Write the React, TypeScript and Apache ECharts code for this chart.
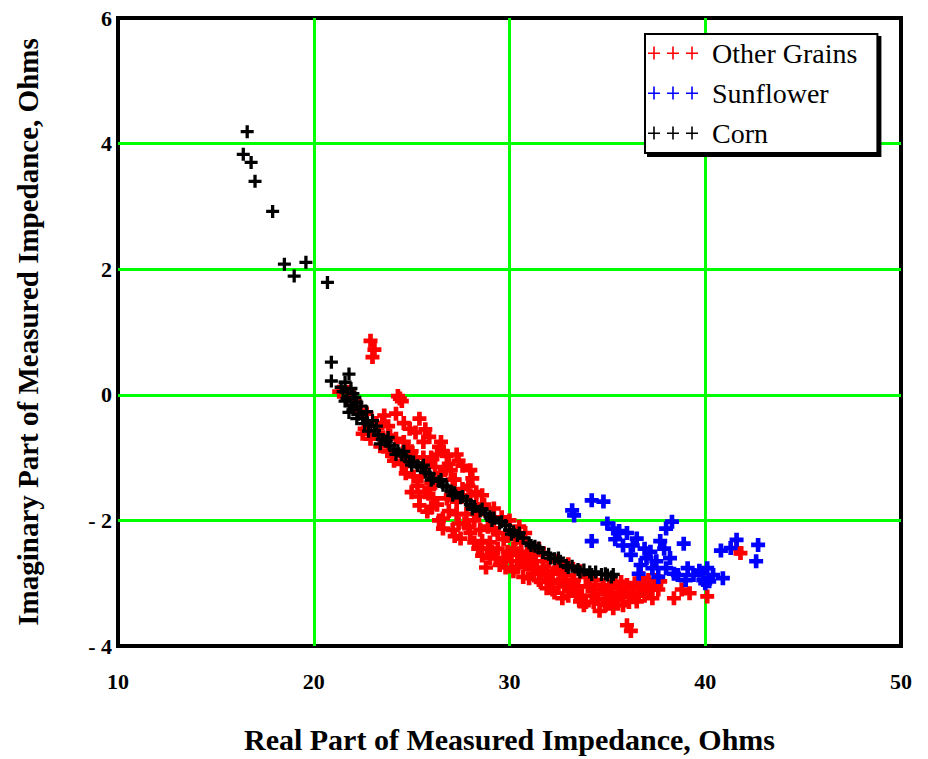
import React, { useEffect, useRef } from "react";
import * as echarts from "echarts";

// Axis ranges and tick steps
const xTicks = [10, 20, 30, 40, 50];
const yTicks = [-4, -2, 0, 2, 4, 6];

const seriesNames = ["Other Grains", "Sunflower", "Corn"];
const seriesColors = ["#ff0000", "#0000ff", "#000000"];

// Other grains: [real, imaginary] impedance, ohms
const otherGrains: number[][] = [
  [22.9, 0.86], [23.1, 0.72], [23.0, 0.6],
  [24.3, -0.02], [24.5, -0.1], [24.4, -0.06],
  [21.3, 0.05], [21.8, 0.05], [22.1, -0.1], [22.4, -0.25], [22.6, -0.54], [22.9, -0.7],
  [22.5, -0.62], [23.2, -0.45], [23.6, -0.33], [23.8, -0.5], [23.4, -0.82], [24.0, -0.97],
  [24.2, -0.7], [24.6, -0.45], [24.9, -0.54], [24.8, -0.85], [24.8, -1.06], [24.7, -1.25],
  [25.4, -0.38], [25.2, -0.6], [25.6, -0.75], [25.9, -0.67], [25.1, -1.3], [25.3, -1.45],
  [25.4, -1.62], [25.4, -1.76], [25.8, -1.86], [25.7, -1.55], [26.1, -1.65], [26.0, -1.0],
  [26.4, -0.83], [26.2, -1.15], [26.6, -0.9], [26.8, -0.97], [26.5, -1.25], [26.3, -1.75],
  [26.6, -1.97], [26.6, -2.13], [26.9, -1.85], [27.0, -1.2], [27.2, -1.35], [27.4, -1.05],
  [27.6, -1.13], [27.3, -1.9], [27.5, -2.29], [27.7, -2.05], [27.9, -1.45], [28.1, -1.33],
  [28.0, -2.2], [28.3, -1.55], [28.6, -1.6], [28.6, -2.33], [28.4, -2.45], [28.6, -2.56],
  [28.9, -2.1], [29.2, -1.81], [29.0, -2.35], [29.3, -2.6], [29.5, -2.71], [29.7, -2.3],
  [29.9, -2.5], [30.0, -2.0], [30.2, -2.81], [30.4, -2.55], [30.6, -2.35], [30.8, -2.7],
  [31.0, -2.92], [31.2, -2.44], [31.4, -2.75], [31.6, -2.98], [31.9, -3.08], [32.0, -2.65],
  [32.2, -2.85], [32.4, -2.65], [32.5, -3.0], [32.7, -3.24], [32.9, -2.87], [33.1, -3.1],
  [33.3, -2.95], [33.6, -3.29], [33.6, -2.81], [33.8, -3.35], [34.0, -3.05], [34.2, -3.2],
  [34.4, -2.95], [34.6, -3.44], [34.8, -3.03], [35.0, -3.3], [35.2, -3.15], [35.4, -3.0],
  [35.6, -3.08], [35.8, -3.35], [36.0, -3.03], [36.0, -3.67], [36.2, -3.76], [36.3, -3.2],
  [36.5, -3.29], [36.8, -2.92], [37.0, -3.08], [37.3, -3.24], [37.5, -3.03], [37.7, -2.97],
  [38.4, -3.24], [38.8, -3.1], [39.2, -3.16], [40.1, -3.21], [41.8, -2.52], [41.6, -2.45],
  [27.0, -1.6], [27.8, -1.9], [28.2, -2.0], [29.4, -2.2], [30.3, -2.3], [31.1, -2.6],
  [31.8, -2.8], [32.8, -3.05], [33.4, -3.15], [34.3, -3.3], [35.3, -3.25], [30.7, -2.9],
  [29.8, -2.75], [30.5, -2.1], [31.5, -2.45], [32.2, -3.1], [33.9, -2.9], [34.9, -3.15],
  [36.4, -3.0], [35.7, -3.2], [26.0, -1.4], [25.8, -1.1], [24.5, -1.1], [23.8, -0.9],
  [23.3, -0.6], [22.7, -0.3], [26.9, -1.1], [28.3, -1.75], [29.1, -2.5], [30.9, -2.5],
  [32.6, -2.8], [33.0, -2.7], [27.1, -2.15], [28.8, -2.75], [36.6, -3.15], [37.1, -2.95],
  [24.2, -0.3], [24.6, -0.75], [25.0, -0.9], [25.2, -1.0], [25.5, -1.3], [25.6, -1.0],
  [25.9, -1.5], [26.2, -1.4], [26.3, -0.95], [26.7, -1.2], [26.8, -1.65], [27.1, -1.35],
  [27.3, -1.7], [27.4, -2.05], [27.6, -1.5], [27.9, -2.1], [28.0, -1.6], [28.2, -2.35],
  [28.4, -1.9], [28.5, -2.15], [28.7, -1.75], [28.9, -2.45], [29.0, -2.6], [29.2, -2.15],
  [29.4, -2.45], [29.6, -1.95], [29.7, -2.6], [29.9, -2.25], [30.1, -2.65], [30.2, -2.45],
  [30.4, -2.75], [30.6, -2.55], [30.8, -2.2], [31.0, -2.7], [31.2, -2.85], [31.3, -2.55],
  [31.5, -2.95], [31.7, -2.65], [31.9, -2.85], [32.1, -2.95], [32.3, -3.15], [32.5, -2.75],
  [32.8, -2.95], [33.0, -3.2], [33.2, -3.0], [33.5, -3.05], [33.7, -3.2], [33.9, -3.3],
  [34.1, -2.9], [34.3, -3.1], [34.5, -3.25], [34.7, -3.1], [34.9, -3.35], [35.1, -3.05],
  [35.3, -3.4], [35.5, -3.25], [35.7, -2.98], [35.9, -3.15], [36.1, -3.3], [36.3, -3.08],
  [36.7, -3.05], [36.9, -3.2], [37.2, -3.1], [37.4, -2.95], [37.6, -3.1], [23.9, -0.65],
  [24.1, -1.05], [25.0, -1.55], [26.0, -1.8], [26.4, -2.0], [27.2, -2.25], [22.8, -0.5],
  [23.5, -0.45], [25.7, -0.55], [26.5, -0.75], [27.3, -0.95], [28.0, -1.2],
];

// Sunflower: [real, imaginary] impedance, ohms
const sunflower: number[][] = [
  [33.2, -1.84], [33.3, -1.92], [34.2, -1.68], [34.8, -1.7], [34.2, -2.33], [35.3, -2.13],
  [35.6, -2.17], [35.8, -2.4], [36.5, -2.29], [36.2, -2.55], [36.7, -2.71], [37.2, -2.5],
  [37.7, -2.33], [38.0, -2.13], [38.3, -2.02], [38.9, -2.37], [37.3, -2.76], [38.0, -2.76],
  [38.6, -2.87], [39.1, -2.76], [39.4, -2.87], [40.1, -2.76], [40.4, -2.87], [40.9, -2.92],
  [40.2, -2.97], [40.8, -2.48], [41.3, -2.44], [41.6, -2.31], [42.7, -2.39], [42.6, -2.65],
  [35.0, -2.05], [35.4, -2.3], [36.0, -2.2], [36.3, -2.4], [36.9, -2.45], [37.0, -2.6],
  [37.5, -2.65], [37.6, -2.9], [38.2, -2.6], [38.4, -2.85], [39.0, -2.95], [39.7, -2.8],
  [39.9, -2.95], [36.6, -2.85], [37.9, -2.45], [40.0, -3.0],
];

// Corn: [real, imaginary] impedance, ohms
const corn: number[][] = [
  [16.6, 4.19], [16.4, 3.83], [16.8, 3.7], [17.0, 3.4], [17.9, 2.92], [18.5, 2.08],
  [19.0, 1.89], [19.6, 2.11], [20.7, 1.79],
  [20.9, 0.52], [20.9, 0.22], [21.8, 0.33], [21.6, 0.2], [21.9, 0.1], [21.5, 0.05],
  [21.7, -0.06], [21.9, -0.17], [22.1, -0.04], [22.0, -0.24], [22.3, -0.31], [22.2, -0.12],
  [22.5, -0.37], [22.7, -0.27], [22.6, -0.46], [22.9, -0.49], [23.1, -0.57], [23.0, -0.41],
  [23.3, -0.64], [23.5, -0.71], [23.7, -0.74], [23.9, -0.81], [24.1, -0.86], [24.3, -0.89],
  [24.5, -0.96], [24.7, -0.99], [24.9, -1.06], [25.1, -1.07], [25.3, -1.13], [25.5, -1.16],
  [25.7, -1.23], [25.9, -1.26], [26.1, -1.33], [26.4, -1.38], [26.6, -1.44], [26.8, -1.47],
  [27.0, -1.53], [27.2, -1.56], [27.5, -1.64], [27.8, -1.69], [28.0, -1.75], [28.2, -1.78],
  [28.5, -1.85], [28.8, -1.89], [29.0, -1.94], [29.2, -1.96], [29.5, -2.04], [29.8, -2.08],
  [30.0, -2.15], [30.2, -2.18], [30.4, -2.24], [30.7, -2.28], [31.0, -2.36], [31.3, -2.41],
  [31.7, -2.51], [32.0, -2.54], [32.3, -2.61], [32.6, -2.65], [32.9, -2.72], [33.2, -2.73],
  [33.5, -2.78], [33.8, -2.79], [34.1, -2.82], [34.4, -2.82], [34.7, -2.86], [35.0, -2.87],
  [35.2, -2.9],
  [21.4, 0.12], [21.6, -0.1], [21.8, -0.28], [22.0, 0.02], [22.2, -0.38], [22.4, -0.18],
  [22.8, -0.58], [23.2, -0.5], [23.4, -0.78], [23.8, -0.68], [24.2, -0.95], [24.6, -0.9],
  [25.0, -1.12], [25.6, -1.12], [26.0, -1.36], [26.5, -1.35], [27.1, -1.6], [27.6, -1.62],
  [28.1, -1.82], [28.6, -1.82], [29.1, -2.0], [29.6, -2.02], [30.1, -2.22], [30.5, -2.2],
  [31.1, -2.4], [31.5, -2.44], [32.1, -2.6], [32.5, -2.6], [33.0, -2.75], [33.6, -2.82],
  [34.2, -2.86], [34.9, -2.85], [35.3, -2.86],
];

const boldPlus = "path://M5,0H10V5H15V10H10V15H5V10H0V5H5Z";
const cornPlus = "path://M5,0H8.4V5H13.4V8.4H8.4V13.4H5V8.4H0V5H5Z";
// Three thin plus signs for the legend keys
const legendPlus =
  "path://M0,6H12V7.6H0Z M5.2,0H6.8V13H5.2Z M19,6H31V7.6H19Z M24.2,0H25.8V13H24.2Z M38,6H50V7.6H38Z M43.2,0H44.8V13H43.2Z";

const serif = "'Liberation Serif', 'Times New Roman', serif";

export default function App() {
  const ref = useRef<HTMLDivElement>(null);

  useEffect(() => {
    if (!ref.current) return;
    const chart = echarts.init(ref.current, undefined, { renderer: "svg" });
    const data = [otherGrains, sunflower, corn];
    chart.setOption({
      animation: false,
      backgroundColor: "#ffffff",
      grid: {
        left: 118,
        top: 18,
        width: 783,
        height: 630,
        show: true,
        borderColor: "#000",
        borderWidth: 4,
        backgroundColor: "transparent",
      },
      legend: {
        orient: "vertical",
        left: 645,
        top: 34,
        padding: [5, 20, 6, 3],
        itemGap: 12,
        itemWidth: 50,
        itemHeight: 13,
        backgroundColor: "#fff",
        borderColor: "#000",
        borderWidth: 2,
        shadowColor: "#000",
        shadowOffsetX: 3,
        shadowOffsetY: 3,
        shadowBlur: 0,
        textStyle: {
          fontFamily: serif,
          fontSize: 28,
          color: "#000",
          padding: [0, 0, 0, 9],
        },
        data: seriesNames.map((n, i) => ({
          name: n,
          icon: legendPlus,
          itemStyle: { color: seriesColors[i] },
        })),
      },
      xAxis: {
        type: "value",
        min: xTicks[0],
        max: xTicks[xTicks.length - 1],
        interval: 10,
        name: "Real Part of Measured Impedance, Ohms",
        nameLocation: "middle",
        nameGap: 78,
        nameTextStyle: { fontFamily: serif, fontWeight: "bold", fontSize: 30, color: "#000" },
        axisLine: { show: false },
        axisTick: { show: false },
        axisLabel: {
          fontFamily: serif,
          fontWeight: "bold",
          fontSize: 22,
          color: "#000",
          margin: 24,
        },
        splitLine: {
          show: true,
          showMinLine: false,
          showMaxLine: false,
          lineStyle: { color: "#00ff00", width: 3 },
        },
      },
      yAxis: {
        type: "value",
        min: yTicks[0],
        max: yTicks[yTicks.length - 1],
        interval: 2,
        name: "Imaginary Part of Measured Impedance, Ohms",
        nameLocation: "middle",
        nameGap: 76,
        nameTextStyle: { fontFamily: serif, fontWeight: "bold", fontSize: 29, color: "#000" },
        axisLine: { show: false },
        axisTick: { show: false },
        axisLabel: {
          fontFamily: serif,
          fontWeight: "bold",
          fontSize: 22,
          color: "#000",
          margin: 6,
          formatter: (v: number) => (v < 0 ? "- " + Math.abs(v) : String(v)),
        },
        splitLine: {
          show: true,
          showMinLine: false,
          showMaxLine: false,
          lineStyle: { color: "#00ff00", width: 3 },
        },
      },
      series: seriesNames.map((n, i) => ({
        name: n,
        type: "scatter",
        data: data[i],
        symbol: i === 2 ? cornPlus : boldPlus,
        symbolSize: i === 2 ? 13 : 14,
        itemStyle: { color: seriesColors[i], opacity: 1 },
        emphasis: { disabled: true },
      })),
    });
    return () => chart.dispose();
  }, []);

  return (
    <div
      ref={ref}
      style={{ position: "fixed", left: 0, top: 0, width: 928, height: 759 }}
    />
  );
}
